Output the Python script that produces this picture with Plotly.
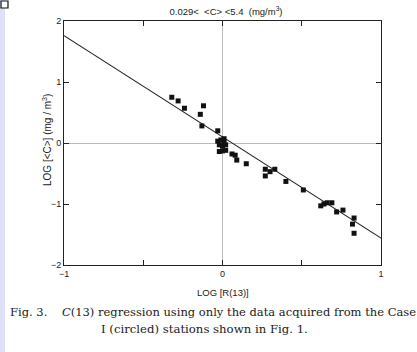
import plotly.graph_objects as go
import numpy as np

# Data: LOG[R(13)] vs LOG[<C>]
log_r = [-0.32, -0.28, -0.24, -0.12, -0.14, -0.13, -0.03,
         -0.03, -0.01, 0.01, -0.02, 0.00, 0.02, -0.02, 0.00, 0.02, 0.01,
         0.06, 0.08, 0.09, 0.15,
         0.27, 0.27, 0.30, 0.33, 0.40, 0.51,
         0.62, 0.64, 0.66, 0.69, 0.72, 0.76, 0.83, 0.82, 0.83]
log_c = [0.75, 0.69, 0.57, 0.61, 0.47, 0.28, 0.20,
         0.03, 0.05, 0.07, -0.03, -0.05, -0.03, -0.14, -0.13, -0.12, 0.00,
         -0.18, -0.20, -0.28, -0.34,
         -0.43, -0.54, -0.47, -0.43, -0.63, -0.77,
         -1.03, -1.00, -0.98, -0.98, -1.13, -1.10, -1.23, -1.33, -1.48]

# Regression fit
fit_intercept = 0.10
fit_slope = -1.66
fit_x = np.array([-1.0, 1.0])
fit_y = fit_intercept + fit_slope * fit_x

x_ticks = [-1, 0, 1]
x_ticklabels = ["\u22121", "0", "1"]
y_ticks = [-2, -1, 0, 1, 2]
y_ticklabels = ["\u22122", "\u22121", "0", "1", "2"]

L, R, T, B = 64, 36, 21, 87
W, H = 417, 352
PW, PH = W - L - R, H - T - B


def px(x):
    return (x - L) / PW


def py(y):
    return (H - B - y) / PH


fig = go.Figure()
fig.add_trace(go.Scatter(x=fit_x, y=fit_y, mode="lines",
                         line=dict(color="#222", width=1.1), hoverinfo="skip"))
fig.add_trace(go.Scatter(x=log_r, y=log_c, mode="markers",
                         marker=dict(symbol="square", size=5, color="#111",
                                     line=dict(width=0))))

font = "Liberation Sans, Arial, sans-serif"
axis_common = dict(showline=True, linecolor="#222", linewidth=1.1, mirror="ticks",
                   ticks="inside", ticklen=5, tickcolor="#222", tickwidth=1,
                   showgrid=False, zeroline=True, zerolinecolor="#bbb", zerolinewidth=0.8,
                   tickfont=dict(family=font, size=9, color="#222"))

fig.update_layout(
    width=W, height=H,
    margin=dict(l=L, r=R, t=T, b=B),
    paper_bgcolor="white", plot_bgcolor="white",
    showlegend=False,
    font=dict(family=font, color="#222"),
    xaxis=dict(range=[-1, 1], tickvals=x_ticks, ticktext=x_ticklabels,
               minor=dict(dtick=0.5, tick0=0, ticks="inside", ticklen=5,
                          tickcolor="#222", tickwidth=1, showgrid=False),
               **axis_common),
    yaxis=dict(range=[-2, 2], tickvals=y_ticks, ticktext=y_ticklabels, **axis_common),
    title=dict(text="0.029&lt;  &lt;C&gt; &lt;5.4  (mg/m<sup>3</sup>)",
               font=dict(size=9.5), x=226 / W, xanchor="center",
               y=1 - 12 / H, yanchor="middle"),
)

# axis titles
fig.add_annotation(text="LOG [&lt;C&gt;] (mg / m<sup>3</sup>)", textangle=-90,
                   xref="paper", yref="paper", x=px(47), y=py(140),
                   xanchor="center", yanchor="middle", showarrow=False,
                   font=dict(family=font, size=10, color="#222"))
fig.add_annotation(text="LOG [R(13)]",
                   xref="paper", yref="paper", x=px(223), y=py(292),
                   xanchor="center", yanchor="middle", showarrow=False,
                   font=dict(family=font, size=9.5, color="#222"))

serif = "DejaVu Serif, serif"
fig.add_annotation(text="Fig. 3.    <i>C</i>(13) regression using only the data acquired from the Case",
                   xref="paper", yref="paper", x=px(8), y=py(312),
                   xanchor="left", yanchor="middle", showarrow=False,
                   font=dict(family=serif, size=11.5, color="#222"))
fig.add_annotation(text="I (circled) stations shown in Fig. 1.",
                   xref="paper", yref="paper", x=px(204), y=py(329),
                   xanchor="center", yanchor="middle", showarrow=False,
                   font=dict(family=serif, size=11.7, color="#222"))

# scan artefacts: tinted left edge and small corner box
fig.add_shape(type="rect", xref="paper", yref="paper",
              x0=px(0), x1=px(5), y0=py(0), y1=py(H),
              fillcolor="rgba(200,205,245,0.6)", line=dict(width=0), layer="below")
fig.add_shape(type="rect", xref="paper", yref="paper",
              x0=px(1), x1=px(8), y0=py(1), y1=py(8),
              fillcolor="white", line=dict(color="#111", width=1.2))

fig.write_html("out.html", config={"displayModeBar": False},
               post_script="document.body.style.margin='0';")
